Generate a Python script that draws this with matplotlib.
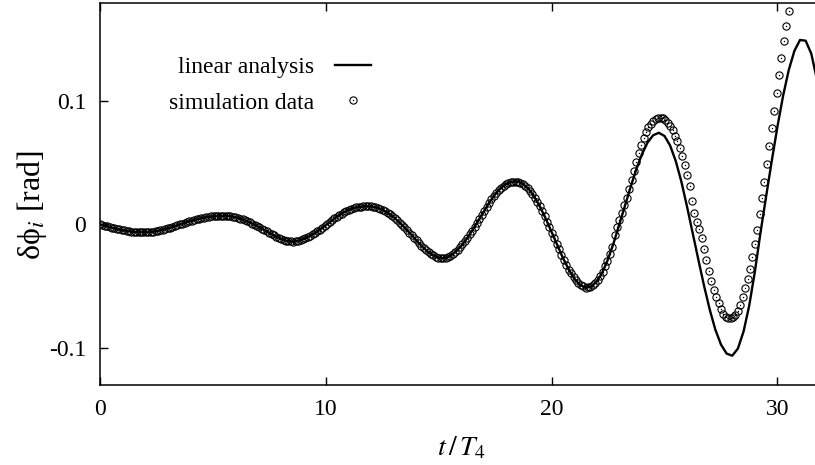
import numpy as np
import matplotlib
matplotlib.use("Agg")
import matplotlib.pyplot as plt

plt.rcParams['font.family'] = ['Liberation Serif', 'DejaVu Serif']
plt.rcParams['mathtext.fontset'] = 'stix'

line_step = 0.25
phi_line = [
    0.0000, -0.0013, -0.0026, -0.0038, -0.0048, -0.0056, -0.0061, -0.0064,
    -0.0065, -0.0061, -0.0055, -0.0045, -0.0033, -0.0018, -0.0003, 0.0012,
    0.0027, 0.0040, 0.0051, 0.0059, 0.0064, 0.0066, 0.0068, 0.0065,
    0.0057, 0.0044, 0.0026, 0.0005, -0.0019, -0.0044, -0.0070, -0.0095,
    -0.0116, -0.0133, -0.0140, -0.0134, -0.0120, -0.0099, -0.0072, -0.0041,
    -0.0007, 0.0029, 0.0063, 0.0093, 0.0117, 0.0134, 0.0142, 0.0146,
    0.0144, 0.0136, 0.0118, 0.0092, 0.0058, 0.0017, -0.0028, -0.0078,
    -0.0128, -0.0177, -0.0219, -0.0251, -0.0273, -0.0274, -0.0257, -0.0223,
    -0.0175, -0.0115, -0.0045, 0.0030, 0.0106, 0.0179, 0.0243, 0.0294,
    0.0329, 0.0345, 0.0346, 0.0325, 0.0282, 0.0218, 0.0136, 0.0041,
    -0.0063, -0.0169, -0.0272, -0.0363, -0.0438, -0.0489, -0.0512, -0.0505,
    -0.0463, -0.0388, -0.0281, -0.0149, 0.0000, 0.0151, 0.0303, 0.0445,
    0.0567, 0.0662, 0.0721, 0.0740, 0.0714, 0.0636, 0.0510, 0.0342,
    0.0140, -0.0075, -0.0288, -0.0497, -0.0689, -0.0852, -0.0973, -0.1046,
    -0.1063, -0.1005, -0.0867, -0.0658, -0.0384, -0.0067, 0.0227, 0.0514,
    0.0790, 0.1039, 0.1247, 0.1402, 0.1491, 0.1485, 0.1380, 0.1170,
]

# simulation data, one point every 0.107 in t/T4
sim_step = 0.107
phi_sim = [
    0.0000, -0.0006, -0.0011, -0.0017, -0.0022, -0.0028, -0.0033, -0.0038, -0.0042, -0.0047,
    -0.0050, -0.0054, -0.0057, -0.0059, -0.0061, -0.0062, -0.0064, -0.0065, -0.0065, -0.0065,
    -0.0063, -0.0061, -0.0059, -0.0056, -0.0052, -0.0048, -0.0044, -0.0039, -0.0033, -0.0027,
    -0.0020, -0.0014, -0.0008, -0.0001, 0.0005, 0.0012, 0.0018, 0.0025, 0.0030, 0.0036,
    0.0041, 0.0046, 0.0051, 0.0054, 0.0058, 0.0060, 0.0063, 0.0064, 0.0065, 0.0066,
    0.0067, 0.0068, 0.0067, 0.0066, 0.0064, 0.0061, 0.0057, 0.0052, 0.0046, 0.0040,
    0.0032, 0.0024, 0.0015, 0.0006, -0.0004, -0.0015, -0.0025, -0.0036, -0.0047, -0.0058,
    -0.0069, -0.0080, -0.0090, -0.0100, -0.0109, -0.0118, -0.0125, -0.0132, -0.0136, -0.0139,
    -0.0140, -0.0137, -0.0133, -0.0127, -0.0121, -0.0112, -0.0103, -0.0093, -0.0081, -0.0069,
    -0.0056, -0.0043, -0.0029, -0.0014, 0.0001, 0.0017, 0.0032, 0.0047, 0.0061, 0.0074,
    0.0087, 0.0099, 0.0109, 0.0118, 0.0126, 0.0133, 0.0137, 0.0140, 0.0143, 0.0144,
    0.0146, 0.0145, 0.0144, 0.0141, 0.0138, 0.0132, 0.0124, 0.0116, 0.0105, 0.0094,
    0.0080, 0.0065, 0.0049, 0.0032, 0.0014, -0.0005, -0.0025, -0.0046, -0.0067, -0.0089,
    -0.0110, -0.0131, -0.0152, -0.0173, -0.0192, -0.0210, -0.0226, -0.0240, -0.0252, -0.0262,
    -0.0271, -0.0275, -0.0275, -0.0271, -0.0264, -0.0255, -0.0241, -0.0226, -0.0207, -0.0186,
    -0.0163, -0.0137, -0.0111, -0.0081, -0.0051, -0.0019, 0.0012, 0.0045, 0.0078, 0.0110,
    0.0141, 0.0172, 0.0201, 0.0228, 0.0253, 0.0275, 0.0296, 0.0313, 0.0327, 0.0336,
    0.0342, 0.0345, 0.0346, 0.0345, 0.0337, 0.0327, 0.0313, 0.0293, 0.0271, 0.0245,
    0.0215, 0.0181, 0.0145, 0.0106, 0.0065, 0.0022, -0.0022, -0.0067, -0.0112, -0.0157,
    -0.0202, -0.0246, -0.0288, -0.0327, -0.0366, -0.0398, -0.0430, -0.0454, -0.0476, -0.0493,
    -0.0503, -0.0512, -0.0511, -0.0507, -0.0492, -0.0474, -0.0450, -0.0418, -0.0385, -0.0340,
    -0.0294, -0.0240, -0.0184, -0.0085, -0.0025, 0.0033, 0.0092, 0.0152, 0.0212, 0.0282,
    0.0355, 0.0430, 0.0505, 0.0575, 0.0638, 0.0700, 0.0750, 0.0785, 0.0813, 0.0835,
    0.0850, 0.0858, 0.0862, 0.0858, 0.0845, 0.0823, 0.0795, 0.0760, 0.0718, 0.0672,
    0.0620, 0.0555, 0.0480, 0.0400, 0.0310, 0.0192, 0.0095, 0.0022, -0.0040, -0.0110,
    -0.0200, -0.0290, -0.0378, -0.0460, -0.0528, -0.0587, -0.0639, -0.0688, -0.0724, -0.0748,
    -0.0758, -0.0760, -0.0752, -0.0735, -0.0705, -0.0650, -0.0585, -0.0515, -0.0445, -0.0360,
    -0.0262, -0.0158, -0.0045, 0.0085, 0.0210, 0.0345, 0.0488, 0.0635, 0.0780, 0.0920,
    0.1060, 0.1205, 0.1345, 0.1480, 0.1605, 0.1725,
]

x_ticks = [0, 10, 20, 30]
y_ticks = [-0.1, 0, 0.1]
y_ticklabels = ['-0.1', '0', '0.1']

t_line = np.arange(len(phi_line)) * line_step
t_sim = np.arange(len(phi_sim)) * sim_step

fig = plt.figure(figsize=(8.15, 4.65), dpi=100)
ax = fig.add_axes([100 / 815, 80 / 465, 722.6 / 815, 382 / 465])

ln, = ax.plot(t_line, phi_line, color='black', lw=1.7, zorder=2)
circ, = ax.plot(t_sim, phi_sim, ls='none', marker='o', ms=5.2, mfc='none',
                mec='black', mew=0.8, zorder=3)
dot, = ax.plot(t_sim, phi_sim, ls='none', marker='o', ms=1.0, mfc='black',
               mec='black', mew=0, zorder=3)

ax.set_xlim(0, 32)
ax.set_ylim(-0.13, 0.179)
ax.set_xticks(x_ticks)
ax.set_xticklabels([str(v) for v in x_ticks])
ax.set_yticks(y_ticks)
ax.set_yticklabels(y_ticklabels)

ax.tick_params(direction='in', length=6, width=1.0, labelsize=17,
               top=True, right=True, color='black')
ax.tick_params(axis='x', pad=10)
ax.tick_params(axis='y', pad=10)
for s in ax.spines.values():
    s.set_linewidth(1.1)

ax.set_xlabel(r'$t\,/\,T_4$', fontsize=20)
ax.xaxis.set_label_coords(0.5, -0.13)
ax.set_ylabel(r'δϕ$_i$ [rad]', fontsize=23)
ax.yaxis.set_label_coords(-0.07, 0.47)

ax.legend([ln, (circ, dot)], ['linear analysis', 'simulation data'],
          loc='upper left', bbox_to_anchor=(0.0955, 0.86), frameon=False,
          markerfirst=False, fontsize=17, handlelength=1.5,
          handletextpad=0.9, labelspacing=0.6, borderpad=0, borderaxespad=0)

fig.savefig('out.png', dpi=100)
